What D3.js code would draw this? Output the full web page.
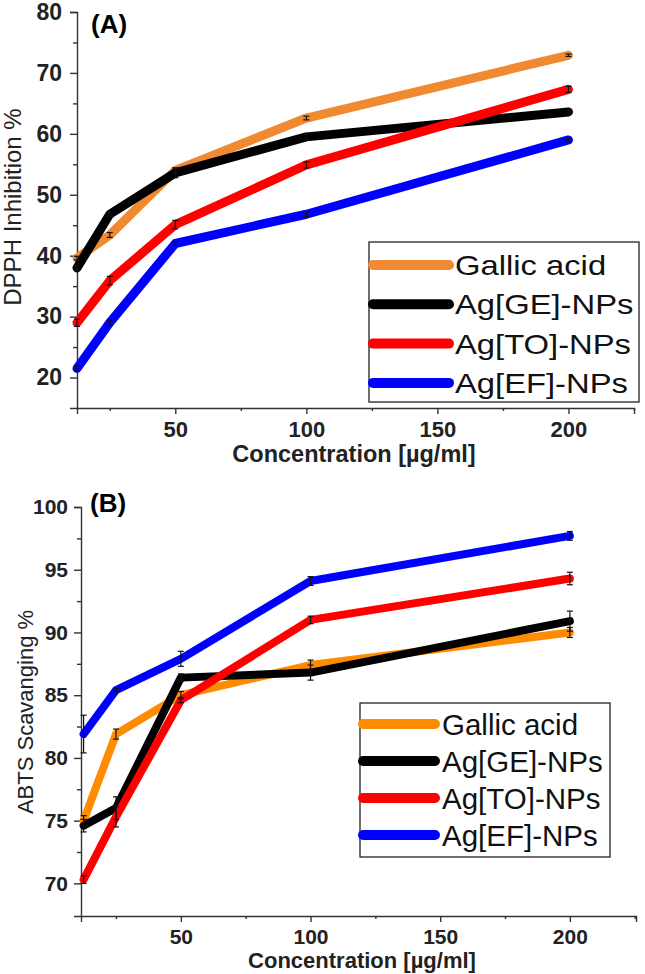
<!DOCTYPE html>
<html>
<head>
<meta charset="utf-8">
<script src="https://cdn.jsdelivr.net/npm/d3@7"></script>
<style>
  html, body { margin: 0; padding: 0; background: #fff; }
  svg { display: block; }
</style>
</head>
<body>
<svg id="chart" width="645" height="974"></svg>
<script>
// ---------- data ----------
const concentrations = [12.5, 25, 50, 100, 200];
const seriesNames = ["Gallic acid", "Ag[GE]-NPs", "Ag[TO]-NPs", "Ag[EF]-NPs"];

const dpphGallic = [39.6, 43.4, 54.0, 62.6, 72.9];
const dpphGE     = [38.0, 46.8, 53.6, 59.5, 63.6];
const dpphTO     = [29.0, 35.9, 45.1, 54.9, 67.3];
const dpphEF     = [21.5, 29.0, 42.0, 46.8, 59.0];
const dpphErrGallic = [0.3, 0.4, 0.4, 0.3, 0.2];
const dpphErrGE     = [0.4, 0.3, 0.8, 0.4, 0.3];
const dpphErrTO     = [0.6, 0.7, 0.7, 0.5, 0.5];
const dpphErrEF     = [0.4, 0.4, 0.3, 0.4, 0.3];

const abtsGallic = [75.0, 81.9, 85.0, 87.4, 90.0];
const abtsGE     = [74.6, 76.0, 86.4, 86.8, 90.9];
const abtsTO     = [70.3, 75.3, 84.6, 91.0, 94.3];
const abtsEF     = [81.9, 85.4, 87.9, 94.1, 97.7];
const abtsErrGallic = [0.4, 0.4, 0.3, 0.4, 0.4];
const abtsErrGE     = [0.5, 0.9, 0.3, 0.6, 0.8];
const abtsErrTO     = [0.3, 0.8, 0.2, 0.3, 0.5];
const abtsErrEF     = [1.5, 0.15, 0.6, 0.35, 0.35];

const xTicksMajor = [50, 100, 150, 200];
const xTicksMinor = [25, 75, 125, 175, 225];
const dpphTicksMajor = [20, 30, 40, 50, 60, 70, 80];
const dpphTicksMinor = [25, 35, 45, 55, 65, 75];
const abtsTicksMajor = [70, 75, 80, 85, 90, 95, 100];
const abtsTicksMinor = [72.5, 77.5, 82.5, 87.5, 92.5, 97.5];

const FONT = "Liberation Sans, Arial, sans-serif";
const svg = d3.select("#chart");

function drawPanel(cfg) {
  const g = svg.append("g");
  const x = d3.scaleLinear().domain(cfg.xDomain).range([cfg.left, cfg.right]);
  const y = d3.scaleLinear().domain(cfg.yDomain).range([cfg.bottom, cfg.top]);

  // axes
  const xg = g.append("g").attr("transform", `translate(0,${cfg.bottom})`)
    .call(d3.axisBottom(x).tickValues(cfg.xMajor).tickSize(6).tickFormat(d3.format("d")));
  const xMinor = g.append("g").attr("transform", `translate(0,${cfg.bottom})`)
    .call(d3.axisBottom(x).tickValues(cfg.xMinor).tickSize(3).tickFormat(""));
  const yg = g.append("g").attr("transform", `translate(${cfg.left},0)`)
    .call(d3.axisLeft(y).tickValues(cfg.yMajor).tickSize(7).tickPadding(cfg.yPad).tickFormat(d3.format("d")));
  const yMinor = g.append("g").attr("transform", `translate(${cfg.left},0)`)
    .call(d3.axisLeft(y).tickValues(cfg.yMinor).tickSize(4).tickFormat(""));
  [xg, xMinor, yg, yMinor].forEach(a => {
    a.selectAll(".domain").attr("stroke", "#333").attr("stroke-width", 1.4);
    a.selectAll(".tick line").attr("stroke", "#333").attr("stroke-width", 1.4);
  });
  xMinor.select(".domain").remove();
  yMinor.select(".domain").remove();
  xg.selectAll(".tick text")
    .attr("y", cfg.xLabelOffset).attr("dy", 0)
    .attr("font-family", FONT).attr("font-weight", "bold")
    .attr("font-size", cfg.xLabelSize).attr("fill", "#222");
  yg.selectAll(".tick text")
    .attr("font-family", FONT).attr("font-weight", "bold")
    .attr("font-size", cfg.yLabelSize).attr("fill", "#222");

  // axis titles
  g.append("text")
    .attr("x", cfg.xTitleX).attr("y", cfg.xTitleY)
    .attr("text-anchor", "middle")
    .attr("font-family", FONT)
    .attr("font-weight", "bold").attr("font-size", cfg.xTitleSize).attr("fill", "#222")
    .text("Concentration [µg/ml]");
  g.append("text")
    .attr("transform", `translate(${cfg.yTitleX},${cfg.yTitleY}) rotate(-90)`)
    .attr("text-anchor", "middle")
    .attr("font-family", FONT)
    .attr("font-size", cfg.yTitleSize).attr("fill", "#222")
    .text(cfg.yTitle);

  // panel label
  g.append("text")
    .attr("x", cfg.labelX).attr("y", cfg.labelY)
    .attr("font-family", FONT)
    .attr("font-weight", "bold").attr("font-size", 26).attr("fill", "#000")
    .text(cfg.label);

  // lines
  const line = d3.line().x(d => x(d[0])).y(d => y(d[1]));
  cfg.series.forEach((s, i) => {
    const pts = concentrations.map((c, j) => [c, s.values[j]]);
    g.append("path").datum(pts)
      .attr("d", line)
      .attr("fill", "none")
      .attr("stroke", cfg.colors[i])
      .attr("stroke-width", cfg.lineWidth)
      .attr("stroke-linejoin", "round")
      .attr("stroke-linecap", "round");
  });
  // error bars
  cfg.series.forEach((s, i) => {
    concentrations.forEach((c, j) => {
      const cx = x(c), y1 = y(s.values[j] - s.err[j]), y2 = y(s.values[j] + s.err[j]);
      const eg = g.append("g").attr("stroke", "#111").attr("stroke-width", 1.2);
      eg.append("line").attr("x1", cx).attr("x2", cx).attr("y1", y1).attr("y2", y2);
      eg.append("line").attr("x1", cx - 3).attr("x2", cx + 3).attr("y1", y1).attr("y2", y1);
      eg.append("line").attr("x1", cx - 3).attr("x2", cx + 3).attr("y1", y2).attr("y2", y2);
    });
  });

  // legend
  const L = cfg.legend;
  g.append("rect")
    .attr("x", L.x).attr("y", L.y).attr("width", L.w).attr("height", L.h)
    .attr("fill", "#fff").attr("stroke", "#222").attr("stroke-width", 1.3);
  seriesNames.forEach((name, i) => {
    const ry = L.y + L.first + i * L.step;
    g.append("line")
      .attr("x1", L.x + L.lx1).attr("x2", L.x + L.lx2)
      .attr("y1", ry).attr("y2", ry)
      .attr("stroke", cfg.colors[i]).attr("stroke-width", L.lw)
      .attr("stroke-linecap", "round");
    g.append("text")
      .attr("transform", `translate(${L.x + L.tx},${ry}) scale(${L.sx},1)`)
      .attr("dy", "0.36em")
      .attr("font-family", FONT)
      .attr("font-size", L.fs).attr("fill", "#111")
      .text(name);
  });
}

drawPanel({
  xDomain: [12.5, 225], yDomain: [15, 80],
  left: 77, right: 634, top: 12, bottom: 408,
  xMajor: xTicksMajor, xMinor: xTicksMinor,
  yMajor: dpphTicksMajor, yMinor: dpphTicksMinor,
  xLabelOffset: 29, xLabelSize: 22, yLabelSize: 23, yPad: 8,
  xTitleX: 354, xTitleY: 462, xTitleSize: 23.5,
  yTitleX: 21, yTitleY: 207, yTitleSize: 24, yTitle: "DPPH Inhibition %",
  label: "(A)", labelX: 91, labelY: 33,
  colors: ["#ef8a33", "#000000", "#ff0000", "#0000ff"],
  lineWidth: 9,
  series: [
    { values: dpphGallic, err: dpphErrGallic },
    { values: dpphGE, err: dpphErrGE },
    { values: dpphTO, err: dpphErrTO },
    { values: dpphEF, err: dpphErrEF }
  ],
  legend: { x: 369, y: 242, w: 270, h: 160, first: 23, step: 39.3, lx1: 4, lx2: 80, lw: 10, tx: 86, fs: 28, sx: 1.17 }
});

drawPanel({
  xDomain: [11.5, 225.5], yDomain: [67.4, 100],
  left: 81, right: 636, top: 507, bottom: 916,
  xMajor: xTicksMajor, xMinor: xTicksMinor,
  yMajor: abtsTicksMajor, yMinor: abtsTicksMinor,
  xLabelOffset: 28, xLabelSize: 21, yLabelSize: 21, yPad: 6,
  xTitleX: 362, xTitleY: 968, xTitleSize: 22,
  yTitleX: 33, yTitleY: 712, yTitleSize: 22, yTitle: "ABTS Scavanging %",
  label: "(B)", labelX: 90, labelY: 512,
  colors: ["#ff8c00", "#000000", "#ff0000", "#0000ff"],
  lineWidth: 8,
  series: [
    { values: abtsGallic, err: abtsErrGallic },
    { values: abtsGE, err: abtsErrGE },
    { values: abtsTO, err: abtsErrTO },
    { values: abtsEF, err: abtsErrEF }
  ],
  legend: { x: 360, y: 703, w: 250, h: 154, first: 21, step: 37, lx1: 3, lx2: 75, lw: 10, tx: 82, fs: 29.5, sx: 1 }
});
</script>
</body>
</html>
